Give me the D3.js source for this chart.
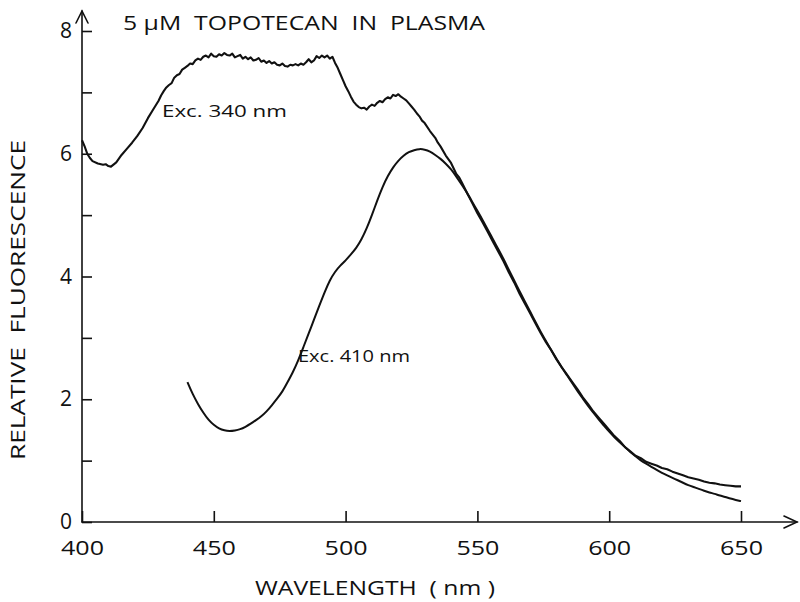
<!DOCTYPE html>
<html>
<head>
<meta charset="utf-8">
<script src="https://cdn.jsdelivr.net/npm/d3@7"></script>
<style>
  html, body { margin: 0; padding: 0; background: #fff; }
  svg { display: block; }
  text { font-family: "Open Sans", "DejaVu Sans", sans-serif; fill: #111; }
</style>
</head>
<body>
<svg id="chart" width="800" height="602"></svg>
<script>
// ---------------- DATA ----------------
const xTicks = [400, 450, 500, 550, 600, 650];
const yTicks = [0, 1, 2, 3, 4, 5, 6, 7, 8];
const yLabelled = [0, 2, 4, 6, 8];

const exc340Wavelength = [400,401,402,403,404,406,408,409,410,411,413,415,417,419,421,423,425,427,428,429,430,431,432,433,434,435,436,437,438,439,440,441,442,443,444,445,446,447,448,449,450,451,452,453,454,455,456,457,458,459,460,461,462,463,464,465,466,467,468,469,470,471,472,473,474,475,476,477,478,479,480,481,482,483,484,485,486,487,488,489,490,491,492,493,494,495,496,497,498,499,500,501,502,503,504,505,506,507,508,509,510,511,512,513,514,515,516,517,518,519,520,521,522,523,524,525,526,527,528,529,530,532,534,535,536,538,540,542,543,544,546,548,550,552,554,556,558,560,562,564,566,568,570,572,574,576,578,580,582,584,586,588,590,592,594,596,598,600,602,604,606,608,610,612,614,616,618,620,622,624,626,628,630,632,634,636,638,640,642,644,646,648,650];
const exc340Value = [6.22,6.12,6.0,5.93,5.88,5.84,5.82,5.83,5.8,5.79,5.86,5.98,6.08,6.18,6.29,6.42,6.58,6.72,6.79,6.86,6.95,7.02,7.08,7.12,7.15,7.24,7.28,7.3,7.37,7.4,7.43,7.47,7.46,7.52,7.55,7.53,7.58,7.6,7.57,7.63,7.59,7.58,7.62,7.6,7.64,7.61,7.6,7.63,7.57,7.59,7.61,7.55,7.58,7.54,7.57,7.52,7.53,7.56,7.5,7.52,7.48,7.51,7.47,7.49,7.45,7.44,7.47,7.43,7.42,7.45,7.44,7.46,7.44,7.47,7.45,7.49,7.54,7.49,7.52,7.59,7.56,7.6,7.57,7.6,7.55,7.58,7.48,7.4,7.3,7.2,7.1,7.02,6.93,6.85,6.8,6.76,6.74,6.75,6.72,6.77,6.8,6.78,6.83,6.86,6.84,6.89,6.92,6.9,6.96,6.94,6.97,6.93,6.9,6.87,6.82,6.77,6.72,6.66,6.61,6.54,6.5,6.37,6.26,6.18,6.12,5.97,5.85,5.67,5.62,5.54,5.37,5.2,5.03,4.88,4.72,4.56,4.4,4.24,4.06,3.9,3.72,3.56,3.4,3.24,3.08,2.93,2.8,2.65,2.52,2.4,2.28,2.16,2.03,1.92,1.8,1.7,1.6,1.5,1.4,1.32,1.22,1.15,1.08,1.04,0.98,0.95,0.92,0.88,0.86,0.82,0.79,0.76,0.73,0.71,0.69,0.66,0.64,0.63,0.61,0.6,0.59,0.58,0.58];

const exc410Wavelength = [440,442,444,446,448,450,452,454,456,458,460,462,464,466,468,470,472,474,476,478,480,482,484,486,488,490,492,494,496,498,500,502,504,506,508,510,512,514,516,518,520,522,524,526,528,530,532,534,536,538,540,542,544,546,548,550,552,554,556,558,560,562,564,566,568,570,572,574,576,578,580,582,584,586,588,590,592,594,596,598,600,602,604,606,608,610,612,614,616,618,620,622,624,626,628,630,632,634,636,638,640,642,644,646,648,650];
const exc410Value = [2.28,2.08,1.92,1.78,1.66,1.58,1.52,1.49,1.48,1.49,1.51,1.55,1.6,1.66,1.72,1.8,1.9,2.01,2.12,2.28,2.44,2.63,2.85,3.07,3.3,3.52,3.74,3.94,4.08,4.18,4.26,4.36,4.46,4.6,4.78,5.0,5.24,5.46,5.64,5.78,5.89,5.97,6.03,6.06,6.08,6.07,6.04,5.98,5.92,5.84,5.75,5.63,5.5,5.37,5.22,5.07,4.92,4.76,4.6,4.44,4.28,4.1,3.93,3.76,3.59,3.43,3.26,3.1,2.95,2.8,2.66,2.52,2.39,2.26,2.13,2.01,1.89,1.78,1.67,1.57,1.47,1.38,1.3,1.22,1.14,1.07,1.0,0.95,0.9,0.85,0.8,0.76,0.72,0.68,0.64,0.6,0.57,0.54,0.51,0.48,0.46,0.43,0.41,0.38,0.36,0.34];

const titleText = "5 \u03bcM  TOPOTECAN  IN  PLASMA";
const xTitle = "WAVELENGTH  ( nm )";
const yTitle = "RELATIVE  FLUORESCENCE";
const label340 = "Exc. 340 nm";
const label410 = "Exc. 410 nm";

// ---------------- LAYOUT ----------------
const svg = d3.select("#chart");
const x = d3.scaleLinear().domain([400, 650]).range([82, 741]);
const y = d3.scaleLinear().domain([0, 8]).range([522, 31]);
const x0 = x(400), y0 = y(0);
const xEnd = 797, yEnd = 11;

const ink = "#111";

// axis lines with open arrowheads
const axes = svg.append("g").attr("stroke", ink).attr("fill", "none")
  .attr("stroke-width", 1.6).attr("stroke-linecap", "round");
axes.append("line").attr("x1", x0).attr("y1", y0).attr("x2", xEnd).attr("y2", y0);
axes.append("line").attr("x1", x0).attr("y1", y0).attr("x2", x0).attr("y2", yEnd);
axes.append("path").attr("d", `M${xEnd - 13},${y0 - 6} L${xEnd},${y0} L${xEnd - 13},${y0 + 6}`);
axes.append("path").attr("d", `M${x0 - 6},${yEnd + 12} L${x0},${yEnd} L${x0 + 6},${yEnd + 12}`);

// x axis ticks (pointing up, inside)
const gx = svg.append("g").attr("transform", `translate(0,${y0})`)
  .call(d3.axisBottom(x).tickValues(xTicks).tickSizeInner(-11).tickSizeOuter(0).tickPadding(20));
gx.select(".domain").remove();
gx.selectAll(".tick line").attr("stroke", ink).attr("stroke-width", 1.6);
gx.selectAll(".tick text").attr("font-size", 20).attr("fill", ink)
  .attr("font-family", "'Open Sans', sans-serif")
  .attr("textLength", 43).attr("lengthAdjust", "spacingAndGlyphs")
  .attr("dy", null).attr("y", 33);

// y axis ticks (pointing right, inside)
const gy = svg.append("g").attr("transform", `translate(${x0},0)`)
  .call(d3.axisLeft(y).tickValues(yTicks).tickSizeInner(-10).tickSizeOuter(0).tickPadding(10)
    .tickFormat(d => yLabelled.includes(d) ? d3.format("d")(d) : ""));
gy.select(".domain").remove();
gy.selectAll(".tick line").attr("stroke", ink).attr("stroke-width", 1.6);
gy.selectAll(".tick text").attr("font-size", 21).attr("fill", ink)
  .attr("font-family", "'Open Sans', sans-serif");

// curves
const line = d3.line().x(d => x(d[0])).y(d => y(d[1])).curve(d3.curveLinear);
const s340 = exc340Wavelength.map((w, i) => [w, exc340Value[i]]);
const s410 = exc410Wavelength.map((w, i) => [w, exc410Value[i]]);
svg.append("path").datum(s340).attr("d", line).attr("fill", "none")
  .attr("stroke", ink).attr("stroke-width", 2.1).attr("stroke-linejoin", "round");
svg.append("path").datum(s410).attr("d", d3.line().x(d => x(d[0])).y(d => y(d[1])).curve(d3.curveBasis))
  .attr("fill", "none").attr("stroke", ink).attr("stroke-width", 2).attr("stroke-linejoin", "round");

// texts
function label(txt, tx, ty, size, len, extra) {
  const t = svg.append("text").attr("x", tx).attr("y", ty).attr("font-size", size)
    .attr("textLength", len).attr("lengthAdjust", "spacingAndGlyphs")
    .style("white-space", "pre").text(txt);
  if (extra) extra(t);
  return t;
}
label(titleText, 123, 30, 20, 362);
label(label340, 162, 117, 17, 125);
label(label410, 298, 362, 17, 112);
label(xTitle, 255, 595, 20, 240);
label(yTitle, 0, 0, 20, 320, t => t.attr("transform", "translate(25,460) rotate(-90)"));
</script>
</body>
</html>
